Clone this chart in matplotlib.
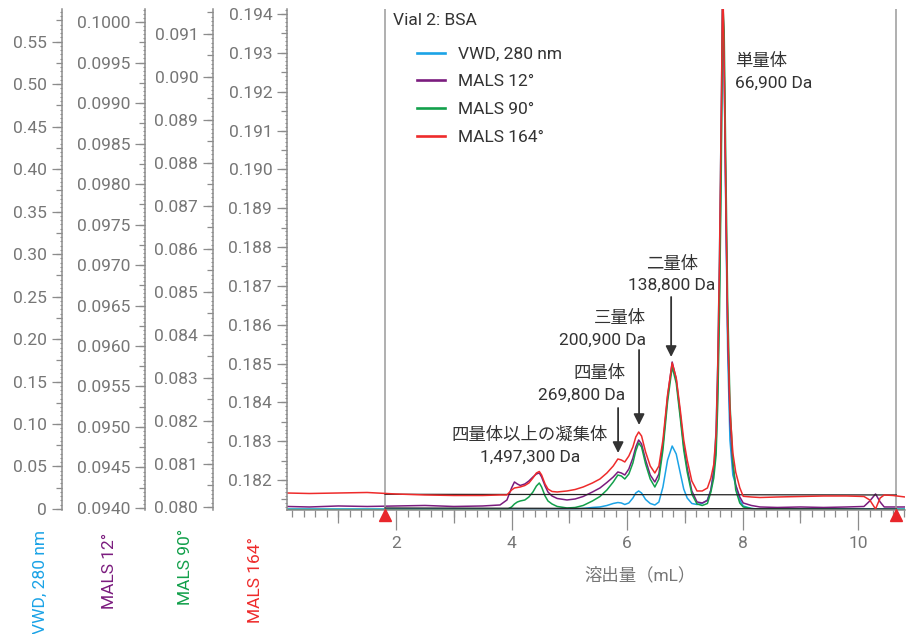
import matplotlib
matplotlib.use("Agg")
import matplotlib.pyplot as plt
from matplotlib.ticker import MultipleLocator, FixedLocator, FuncFormatter
from matplotlib.transforms import blended_transform_factory

plt.rcParams["font.family"] = ["Roboto", "Noto Sans CJK JP", "DejaVu Sans"]

# ---- data -------------------------------------------------------------
# elution volume (mL) shared by all detector traces
volume = [0.11, 0.5, 1.0, 1.5, 2.0, 2.5, 3.0, 3.5, 3.8, 3.92,
          4.0, 4.05, 4.1, 4.15, 4.23, 4.3, 4.37, 4.43, 4.48, 4.52,
          4.58, 4.63, 4.70, 4.79, 4.96, 5.1, 5.24, 5.4, 5.53, 5.65,
          5.76, 5.84, 5.90, 5.96, 6.03, 6.10, 6.15, 6.20, 6.25, 6.32,
          6.40, 6.48, 6.55, 6.62, 6.70, 6.78, 6.85, 6.92, 6.98, 7.04,
          7.12, 7.21, 7.30, 7.39, 7.45, 7.50, 7.54, 7.57, 7.60, 7.63,
          7.655, 7.68, 7.71, 7.74, 7.78, 7.83, 7.88, 7.95, 8.01, 8.15,
          8.3, 8.6, 9.0, 9.4, 9.8, 10.1, 10.2, 10.30, 10.38, 10.45,
          10.6, 10.81]

vwd_280 = [0.0] * 26 + [
    0.0006, 0.0018, 0.0024, 0.0041,
    0.0065, 0.0076, 0.0071, 0.0053, 0.0071, 0.0129, 0.0188, 0.0212, 0.0188, 0.0112,
    0.0065, 0.0047, 0.0082, 0.0259, 0.0576, 0.0741, 0.0647, 0.0424, 0.0235, 0.0129,
    0.0065, 0.0053, 0.0065, 0.0106, 0.0224, 0.0459, 0.0929, 0.1753, 0.3047, 0.4694,
    0.6106, 0.5165, 0.3400, 0.1871, 0.0812, 0.0400, 0.0282, 0.0106, 0.0035, 0.0006,
] + [0.0] * 12

mals_12 = [0.0940185, 0.0940123, 0.0940247, 0.0940185, 0.0940247, 0.0940309, 0.0940185, 0.0940247, 0.0940370, 0.0940988,
           0.0942469, 0.0943210, 0.0942963, 0.0942778, 0.0942963, 0.0943333, 0.0943827, 0.0944198, 0.0944321, 0.0943827,
           0.0942716, 0.0941975, 0.0941482, 0.0941173, 0.0940988, 0.0941111, 0.0941420, 0.0941975, 0.0942469, 0.0943148,
           0.0943827, 0.0944444, 0.0944321, 0.0944074, 0.0944815, 0.0946173, 0.0947531, 0.0948395, 0.0947901, 0.0945926,
           0.0944074, 0.0943210, 0.0944198, 0.0947778, 0.0953704, 0.0958025, 0.0955926, 0.0951605, 0.0947654, 0.0944938,
           0.0942099, 0.0940741, 0.0940617, 0.0940926, 0.0942222, 0.0944444, 0.0947778, 0.0955802, 0.0968148, 0.0985432,
           0.1003951, 0.0994074, 0.0976790, 0.0961975, 0.0950864, 0.0945309, 0.0942840, 0.0941358, 0.0940617, 0.0940309,
           0.0940123, 0.0940062, 0.0940123, 0.0940062, 0.0940123, 0.0940185, 0.0940864, 0.0941728, 0.0940741, 0.0940123,
           0.0940123, 0.0940123]

mals_90 = [0.07994] * 9 + [
           0.079942,
           0.080000, 0.080070, 0.080116, 0.080140, 0.080163, 0.080233, 0.080349, 0.080488, 0.080558, 0.080465,
           0.080256, 0.080140, 0.080070, 0.080012, 0.079977, 0.079988, 0.080035, 0.080140, 0.080244, 0.080395,
           0.080581, 0.080744, 0.080721, 0.080651, 0.080767, 0.081023, 0.081302, 0.081488, 0.081395, 0.081000,
           0.080651, 0.080465, 0.080651, 0.081326, 0.082442, 0.083256, 0.082884, 0.082070, 0.081326, 0.080814,
           0.080302, 0.080070, 0.080035, 0.080081, 0.080349, 0.080674, 0.081209, 0.082442, 0.084581, 0.087837,
           0.091767, 0.091070, 0.087837, 0.084814, 0.082419, 0.081070, 0.080395, 0.080093, 0.080000, 0.079965,
] + [0.079942] * 12

mals_164 = [0.181665, 0.181652, 0.181665, 0.181678, 0.181639, 0.181614, 0.181601, 0.181601, 0.181614, 0.181614,
            0.181742, 0.181794, 0.181807, 0.181820, 0.181858, 0.181923, 0.182052, 0.182180, 0.182219, 0.182129,
            0.181897, 0.181768, 0.181704, 0.181691, 0.181717, 0.181755, 0.181820, 0.181923, 0.182026, 0.182180,
            0.182361, 0.182541, 0.182515, 0.182464, 0.182618, 0.182850, 0.183107, 0.183236, 0.183133, 0.182721,
            0.182361, 0.182180, 0.182361, 0.183030, 0.184189, 0.185013, 0.184627, 0.183803, 0.183030, 0.182515,
            0.181974, 0.181717, 0.181717, 0.181794, 0.182050, 0.182400, 0.183200, 0.185000, 0.187800, 0.191500,
            0.195000, 0.192800, 0.189200, 0.186000, 0.183800, 0.182700, 0.182200, 0.181800, 0.181580, 0.181562,
            0.181549, 0.181562, 0.181575, 0.181588, 0.181588, 0.181575, 0.181485, 0.181253, 0.181536, 0.181614,
            0.181601, 0.181562]

series_names = ["VWD, 280 nm", "MALS 12°", "MALS 90°", "MALS 164°"]

# integration window and the two fitted baselines
integration_limits = [1.81, 10.66]
baseline_upper = [0.181632, 0.181614]
baseline_lower = [0.181279, 0.181253]

species = ["単量体", "二量体", "三量体", "四量体", "四量体以上の凝集体"]
molar_mass = ["66,900 Da", "138,800 Da", "200,900 Da", "269,800 Da", "1,497,300 Da"]

# ---- style ------------------------------------------------------------
C_VWD, C_12, C_90, C_164 = "#1ba3e6", "#7b1c7e", "#12a04b", "#ee2b2b"
GRAY = "#8c8c8c"
TXT = "#767676"
DARK = "#333333"
FS = 12.5

W, H = 912, 634
fig = plt.figure(figsize=(W / 100, H / 100), dpi=100)
ax = fig.add_axes([287 / W, 1 - 510 / H, (905 - 287) / W, (510 - 9) / H])


def style_y(a, lim, major, medium, minor, fmt, spine_pos):
    a.set_ylim(*lim)
    a.yaxis.set_major_locator(MultipleLocator(major))
    a.yaxis.set_minor_locator(MultipleLocator(minor))
    a.yaxis.set_major_formatter(FuncFormatter(fmt))
    a.tick_params(axis="y", which="major", length=7.2, width=0.9, color=GRAY,
                  labelcolor=TXT, labelsize=FS, pad=3.5)
    a.tick_params(axis="y", which="minor", length=1.8, width=0.8, color=GRAY)
    sec = a.secondary_yaxis(spine_pos)
    sec.yaxis.set_major_locator(MultipleLocator(medium))
    sec.tick_params(axis="y", length=4.3, width=0.9, color=GRAY, labelleft=False, labelright=False)
    for s in sec.spines.values():
        s.set_visible(False)


def make_twin(frac):
    t = ax.twinx()
    for s in ("top", "right", "bottom"):
        t.spines[s].set_visible(False)
    t.spines["left"].set_visible(True)
    t.spines["left"].set_position(("axes", frac))
    t.spines["left"].set_color(GRAY)
    t.spines["left"].set_linewidth(1.1)
    t.yaxis.set_ticks_position("left")
    t.yaxis.set_label_position("left")
    return t


ax_vwd = make_twin((62 - 287) / 618)
ax_12 = make_twin((145 - 287) / 618)
ax_90 = make_twin((213 - 287) / 618)
ax_vwd.set_zorder(1)
ax_12.set_zorder(2)
ax_90.set_zorder(3)
ax.set_zorder(4)
ax.patch.set_visible(False)

style_y(ax_vwd, (-0.00118, 0.58825), 0.05, 0.025, 0.005,
        lambda v, p: "0" if abs(v) < 1e-9 else f"{v:.2f}", (62 - 287) / 618)
style_y(ax_12, (0.093975, 0.100161), 0.0005, 0.00025, 0.00005,
        lambda v, p: f"{v:.4f}", (145 - 287) / 618)
style_y(ax_90, (0.079930, 0.091581), 0.001, 0.0005, 0.0001,
        lambda v, p: f"{v:.3f}", (213 - 287) / 618)
style_y(ax, (0.181227, 0.194130), 0.001, 0.0005, 0.0001,
        lambda v, p: f"{v:.3f}", "left")

# traces
l_vwd, = ax_vwd.plot(volume, vwd_280, color=C_VWD, lw=1.1)
l_12, = ax_12.plot(volume, mals_12, color=C_12, lw=1.1)
l_90, = ax_90.plot(volume, mals_90, color=C_90, lw=1.1)
l_164, = ax.plot(volume, mals_164, color=C_164, lw=1.1)

# x axis
ax.set_xlim(0.113, 10.81)
ax.xaxis.set_major_locator(MultipleLocator(2))
ax.xaxis.set_minor_locator(MultipleLocator(0.2))
ax.tick_params(axis="x", which="major", length=14.4, width=0.9, color=GRAY,
               labelcolor=TXT, labelsize=FS, pad=4)
ax.tick_params(axis="x", which="minor", length=5, width=0.9, color=GRAY)
secx = ax.secondary_xaxis("bottom")
secx.xaxis.set_major_locator(FixedLocator([1, 3, 5, 7, 9]))
secx.tick_params(axis="x", length=9.4, width=0.9, color=GRAY, labelbottom=False)
for s in secx.spines.values():
    s.set_visible(False)

for s in ("top", "right"):
    ax.spines[s].set_visible(False)
for s in ("left", "bottom"):
    ax.spines[s].set_color(GRAY)
    ax.spines[s].set_linewidth(1.1)

# integration window and baselines
for xv in integration_limits:
    ax.axvline(xv, color="#9a9a9a", lw=1.1, zorder=1)
ax.plot(integration_limits, baseline_upper, color="#222222", lw=0.9, zorder=1.5)
ax.plot(integration_limits, baseline_lower, color="#222222", lw=0.9, zorder=1.5)
trans = blended_transform_factory(ax.transData, ax.transAxes)
ax.plot(integration_limits, [-0.009, -0.009], transform=trans, ls="none",
        marker="^", ms=8, color="#e8262b", clip_on=False, zorder=10)

# legend
ax.text((393 - 287) / 618, 0.978, "Vial 2: BSA", transform=ax.transAxes,
        ha="left", va="center", fontsize=FS, color=DARK)
ax.legend([l_vwd, l_12, l_90, l_164], series_names, loc="upper left",
          bbox_to_anchor=((417 - 287) / 618, 0.925), borderaxespad=0, borderpad=0,
          frameon=False, fontsize=FS, labelcolor=DARK, handlelength=1.6,
          handletextpad=0.75, labelspacing=0.72)
for h in ax.get_legend().legend_handles:
    h.set_linewidth(1.9)

# peak annotations
def label(x, y1, y2, ha, name, mass):
    ax.text(x, y1, name, ha=ha, va="center", fontsize=FS, color=DARK)
    ax.text(x, y2, mass, ha=ha, va="center", fontsize=FS, color=DARK)


def arrow(x, y_from, y_to):
    ax.annotate("", xy=(x, y_to), xytext=(x, y_from),
                arrowprops=dict(arrowstyle="-|>", color=DARK, lw=1.3,
                                mutation_scale=16, shrinkA=0, shrinkB=0))


label(7.87, 0.192790, 0.192224, "left", species[0], molar_mass[0])
label(6.779, 0.187563, 0.187022, "center", species[1], molar_mass[1])
arrow(6.762, 0.186713, 0.185168)
label(6.329, 0.186172, 0.185605, "right", species[2], molar_mass[2])
arrow(6.207, 0.185348, 0.183416)
label(5.965, 0.184756, 0.184189, "right", species[3], molar_mass[3])
arrow(5.844, 0.183854, 0.182695)
label(4.320, 0.183159, 0.182592, "center", species[4], molar_mass[4])

# axis titles
fig.text(584 / W, 1 - 575 / H, "溶出量（mL）", ha="left", va="center",
         fontsize=FS, color=TXT)
for name, col, xc, top in zip(series_names, [C_VWD, C_12, C_90, C_164],
                              [40, 110, 186, 256], [530, 533, 529, 537]):
    fig.text(xc / W, 1 - top / H, name, rotation=90, ha="center", va="top",
             fontsize=FS, color=col)

fig.savefig("out.png", dpi=100, facecolor="white")
